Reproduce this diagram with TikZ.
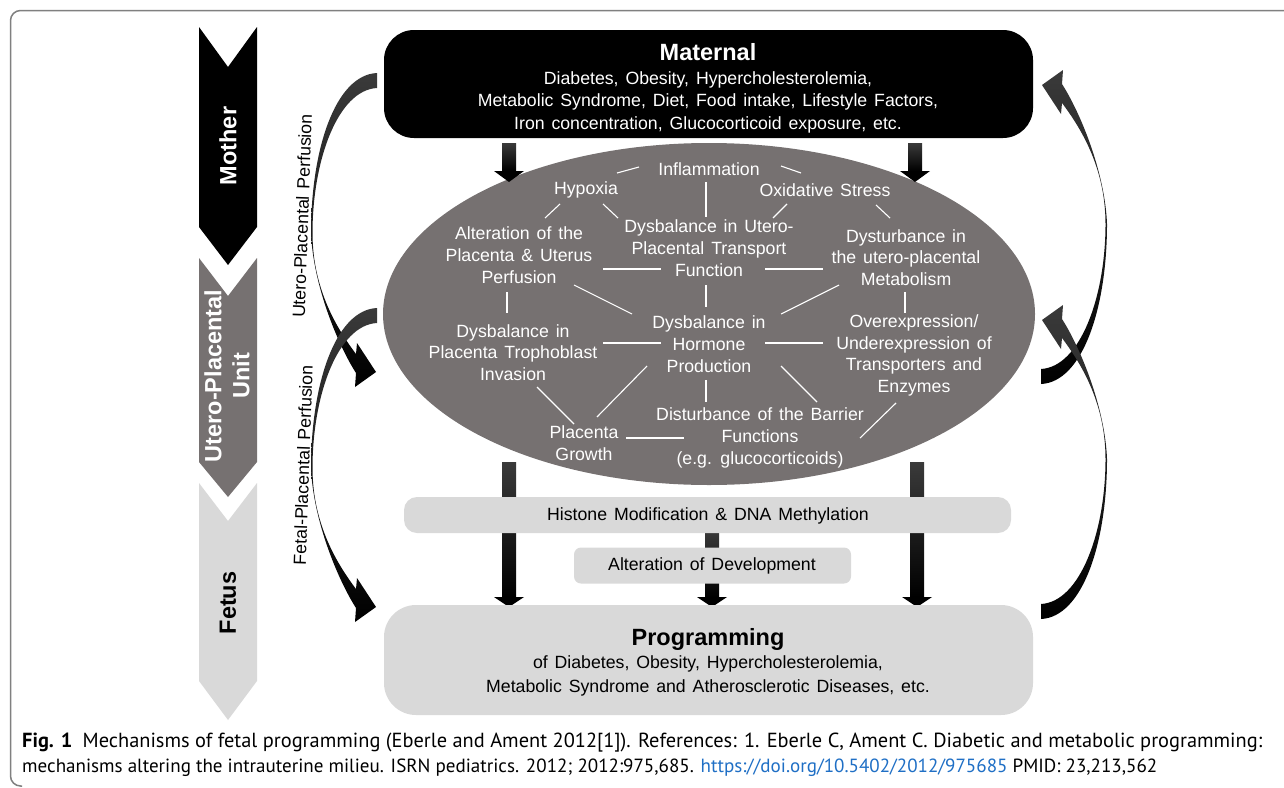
\documentclass[tikz,border=0pt]{standalone}
\usepackage{fontspec}
\usepackage{graphicx}
\setmainfont{Liberation Sans}[WordSpace=1.4]
\newfontfamily\capfont{PT Sans}
\usetikzlibrary{shapes.geometric}
\definecolor{unitgrey}{HTML}{767171}
\definecolor{boxgrey}{HTML}{D9D9D9}
\definecolor{framegrey}{HTML}{808080}
\definecolor{tailgrey}{HTML}{3A3A3A}
\definecolor{doiblue}{HTML}{1F6FC5}
\newcommand\bodysize{\fontsize{17.7}{21.7}\selectfont}
\newcommand\titlesize{\fontsize{23.5}{28}\selectfont\bfseries}
\newcommand\dnarrow[4]{%
  \shade[top color=tailgrey, bottom color=black] (#1-7,#2) rectangle (#1+7,#3);
  \fill[black] (#1-15,#3) -- (#1+15,#3) -- (#1,#4) -- cycle;}
\newcommand\crescent{%
  \shade[top color=tailgrey, bottom color=black]
   (377,73) .. controls (335,75) and (311,150) .. (311,233)
   .. controls (313,285) and (338,345) .. (356,373)
   -- (355,387) -- (376,372) -- (357,343) -- (356,354)
   .. controls (338,330) and (312.5,290) .. (312.5,233)
   .. controls (312.5,160) and (338,90) .. (377,88) -- cycle;}
\tikzset{
  etxt/.style={font=\bodysize, align=center, inner sep=0pt, text=white},
  btxt/.style={font=\bodysize, align=center, inner sep=0pt, text=black},
  link/.style={draw=white, line width=1.1pt},
  bigbox/.style={rounded corners=30pt, inner sep=0pt, minimum width=649pt},
  sidetxt/.style={rotate=90, font=\titlesize, align=center, inner sep=0pt},
  perf/.style={rotate=88, font=\bodysize, inner sep=0pt},
  captxt/.style={anchor=base west, inner sep=0pt, font=\capfont}
}
\begin{document}
\begin{tikzpicture}[x=1pt,y=-1pt]
\useasboundingbox (0,0) rectangle (1284,787);
% frame
\draw[framegrey, line width=1.5pt, rounded corners=10pt] (1284,10.5) -- (10.5,10.5) -- (10.5,786) -- (22,786);

% left column
\fill[black] (199,27) -- (228,67) -- (257,27) -- (257,227) -- (228,265) -- (199,227) -- cycle;
\fill[unitgrey] (199,258) -- (228,296) -- (257,258) -- (257,462) -- (228,497) -- (199,462) -- cycle;
\fill[boxgrey] (199,483) -- (228,521) -- (257,483) -- (257,681) -- (228,720) -- (199,681) -- cycle;
\node[sidetxt, text=white] (mother) at (228,146) {Mother};
\node[sidetxt, text=white] (uterolbl) at (227,376) {Utero-Placental\\Unit};
\node[sidetxt, text=black] (fetuslbl) at (228,603) {Fetus};

% main boxes
\node[bigbox, fill=black, minimum height=108pt] (maternal) at (708.5,84) {};
\node[ellipse, fill=unitgrey, minimum width=652pt, minimum height=342pt, inner sep=0pt] (unit) at (709,314) {};

% down arrows (behind the boxes below)
\dnarrow{509}{143}{171}{182}
\dnarrow{915}{143}{171}{182}
\dnarrow{509}{462}{597}{607}
\dnarrow{917}{462}{597}{607}
\dnarrow{712}{530}{597}{607}

\node[rounded corners=13pt, fill=boxgrey, minimum width=607pt, minimum height=36pt, inner sep=0pt] (histone) at (707.5,515) {};
\node[rounded corners=7pt, fill=boxgrey, minimum width=277pt, minimum height=36pt, inner sep=0pt] (alter) at (712.5,565.5) {};
\node[bigbox, fill=boxgrey, minimum height=110pt, rounded corners=32pt] (prog) at (708.5,660) {};

% texts of boxes
\node[font=\titlesize, text=white, inner sep=0pt] (mattitle) at (708,52) {Maternal};
\node[etxt, font=\fontsize{17.7}{22.5}\selectfont] (matbody) at (708,102) {Diabetes, Obesity, Hypercholesterolemia,\\Metabolic Syndrome, Diet, Food intake, Lifestyle Factors,\\Iron concentration, Glucocorticoid exposure, etc.};
\node[btxt] (histtxt) at (708,516) {Histone Modification \& DNA Methylation};
\node[btxt] (altertxt) at (712,566) {Alteration of Development};
\node[font=\titlesize, inner sep=0pt] (progtitle) at (708,639) {Programming};
\node[btxt, font=\fontsize{17.7}{23.5}\selectfont] (progbody) at (708,676) {of Diabetes, Obesity, Hypercholesterolemia,\\Metabolic Syndrome and Atherosclerotic Diseases, etc.};

% ellipse texts
\node[etxt] (inflam) at (709,169) {Inflammation};
\node[etxt] (hypoxia) at (586,190) {Hypoxia};
\node[etxt] (oxid) at (825,190) {Oxidative Stress};
\node[etxt] (transport) at (709,248) {Dysbalance in Utero-\\Placental Transport\\Function};
\node[etxt] (perfusion) at (519,255) {Alteration of the\\Placenta \& Uterus\\Perfusion};
\node[etxt] (metab) at (906,257.5) {Dysturbance in\\the utero-placental\\Metabolism};
\node[etxt] (hormone) at (709,344) {Dysbalance in\\Hormone\\Production};
\node[etxt] (tropho) at (513,352.5) {Dysbalance in\\Placenta Trophoblast\\Invasion};
\node[etxt] (overexp) at (914,355.5) {Overexpression/\\Underexpression of\\Transporters and\\Enzymes};
\node[etxt] (barrier) at (760,438) {Disturbance of the Barrier\\Functions\\(e.g. glucocorticoids)};
\node[etxt] (growth) at (584,443.5) {Placenta\\Growth};

% ellipse links
\draw[link] (617,173) -- (639,167);
\draw[link] (781,166) -- (801,173);
\draw[link] (706,182) -- (706,217);
\draw[link] (560,204) -- (545,218);
\draw[link] (603,204) -- (618,218);
\draw[link] (787,204) -- (773,218);
\draw[link] (876,205) -- (890,218);
\draw[link] (603,269) -- (661,269);
\draw[link] (765,269) -- (823,269);
\draw[link] (706,285) -- (706,307);
\draw[link] (574,285) -- (632,314);
\draw[link] (839,285) -- (781,314);
\draw[link] (507,292) -- (507,313);
\draw[link] (905,292) -- (905,313);
\draw[link] (603,343) -- (661,343);
\draw[link] (765,343) -- (823,343);
\draw[link] (647,366) -- (597,417);
\draw[link] (781,366) -- (817,402);
\draw[link] (706,380) -- (706,402);
\draw[link] (537,387) -- (574,424);
\draw[link] (626,438) -- (684,438);
\draw[link] (896,403) -- (860,438);

% curved perfusion arrows
\crescent
\begin{scope}[shift={(0,235)}]\crescent\end{scope}
\begin{scope}[rotate around={180:(709,228.5)}]\crescent\end{scope}
\begin{scope}[rotate around={180:(709,463.5)}]
  \begin{scope}[shift={(0,235)}]\crescent\end{scope}
\end{scope}
\node[perf] (uplabel) at (302,216) {Utero-Placental Perfusion};
\node[perf] (fplabel) at (303,465) {Fetal-Placental Perfusion};

% caption
\node[captxt] (cap1) at (22,747) {\resizebox{1240pt}{!}{\textbf{Fig. 1}\hspace{5pt}Mechanisms of fetal programming (Eberle and Ament 2012[1]). References: 1. Eberle C, Ament C. Diabetic and metabolic programming:}};
\node[captxt] (cap2) at (22,772) {\resizebox{1135pt}{!}{mechanisms altering the intrauterine milieu. ISRN pediatrics. 2012; 2012:975,685. \textcolor{doiblue}{https://doi.org/10.5402/2012/975685} PMID: 23,213,562}};
\end{tikzpicture}
\end{document}
